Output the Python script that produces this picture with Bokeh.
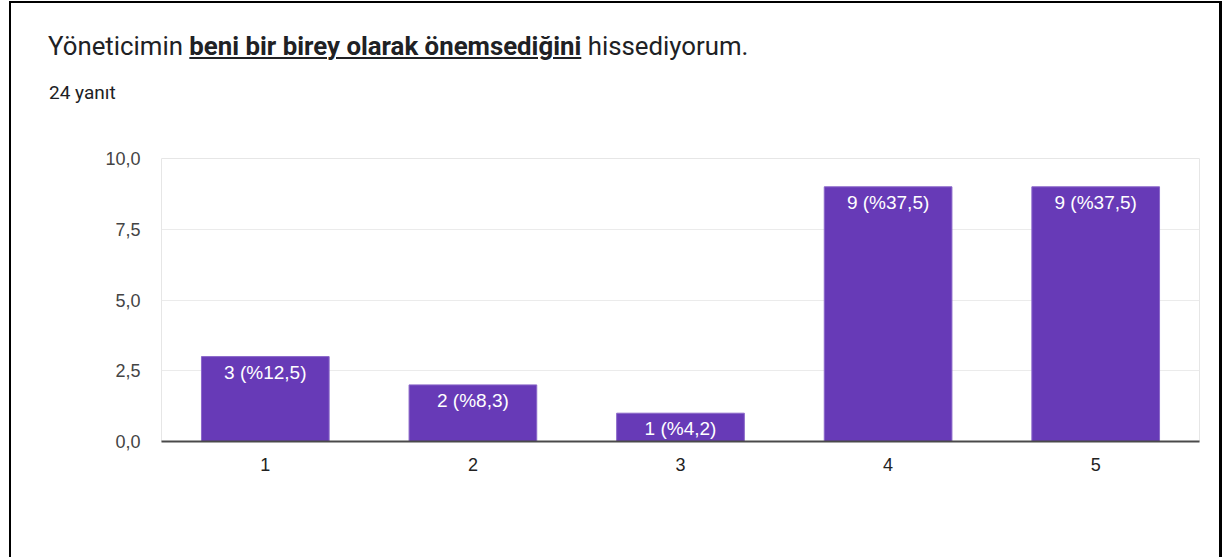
from bokeh.plotting import figure
from bokeh.layouts import column
from bokeh.models import FactorRange, Range1d, FixedTicker, ColumnDataSource, Div
from bokeh.embed import file_html
from bokeh.resources import INLINE
from bokeh.core.properties import value

# ---- data ----
categories = ["1", "2", "3", "4", "5"]
counts = [3, 2, 1, 9, 9]
percents = ["12,5", "8,3", "4,2", "37,5", "37,5"]
y_ticks = [0, 2.5, 5, 7.5, 10]
y_tick_labels = ["0,0", "2,5", "5,0", "7,5", "10,0"]
title_parts = ["Yöneticimin", "beni bir birey olarak önemsediğini", "hissediyorum."]
subtitle = "24 yanıt"

bar_labels = [f"{c} (%{p})" for c, p in zip(counts, percents)]

# layout geometry (page pixels)
X0, Y0 = 11, 3          # content origin inside the card border
CW = 1208               # content width
HEAD_H = 140
MAIN_H = 414

# ---- header (title + subtitle) ----
head_html = (
    '<div style="position:relative;width:%dpx;height:%dpx;font-family:Roboto,sans-serif;'
    'color:#202124;background:white;">'
    '<div style="position:absolute;left:37px;top:31px;font-size:25.8px;line-height:1;'
    'white-space:nowrap;">%s '
    '<span style="font-weight:bold;text-decoration:underline;text-decoration-thickness:2px;'
    'text-underline-offset:2px;">%s</span> %s</div>'
    '<div style="position:absolute;left:38px;top:80px;font-size:19px;line-height:1;'
    'white-space:nowrap;">%s</div>'
    '</div>'
) % (CW, HEAD_H, title_parts[0], title_parts[1], title_parts[2], subtitle)
head = Div(text=head_html, width=CW, height=HEAD_H, styles={"margin": "0", "padding": "0"})

# ---- main chart ----
p = figure(width=CW, height=MAIN_H, output_backend="svg", toolbar_location=None,
           x_range=FactorRange(*categories, range_padding=0), y_range=Range1d(0, 10),
           min_border_left=161 - X0, min_border_right=X0 + CW - 1199,
           min_border_top=158 - (Y0 + HEAD_H), min_border_bottom=116)
p.background_fill_color = "white"
p.border_fill_color = "white"
p.outline_line_color = "#e6e6e6"
p.outline_line_width = 1

src = ColumnDataSource(dict(cat=categories, cnt=counts, lab=bar_labels))
p.vbar(x="cat", top="cnt", width=0.615, source=src, fill_color="#673ab7",
       line_color="#8a67c9", line_width=1)
p.text(x="cat", y="cnt", text="lab", source=src, text_color="white",
       text_font=value("Liberation Sans"), text_font_size="19px",
       text_align="center", text_baseline="top", y_offset=5)

p.xgrid.grid_line_color = None
p.ygrid.grid_line_color = "#ebebeb"
p.ygrid.grid_line_width = 1
p.yaxis.ticker = FixedTicker(ticks=y_ticks)
p.yaxis.major_label_overrides = {t: l for t, l in zip(y_ticks, y_tick_labels)}
for ax in (p.xaxis, p.yaxis):
    ax.major_tick_line_color = None
    ax.minor_tick_line_color = None
    ax.major_label_text_font = "Liberation Sans"
    ax.major_label_text_font_size = "18px"
p.yaxis.axis_line_color = None
p.yaxis.major_label_text_color = "#444444"
p.yaxis.major_label_standoff = 15
p.xaxis.axis_line_color = "#4a4a4a"
p.xaxis.axis_line_width = 2
p.xaxis.major_label_text_color = "#222222"
p.xaxis.major_label_standoff = 10

layout = column(head, p, spacing=0,
                styles={"margin": "1px 1px 0px 9px",
                        "border-left": "2px solid #000000",
                        "border-top": "2px solid #000000",
                        "border-right": "3px solid #000000",
                        "background-color": "white"})

open("out.html", "w").write(file_html(layout, INLINE))
